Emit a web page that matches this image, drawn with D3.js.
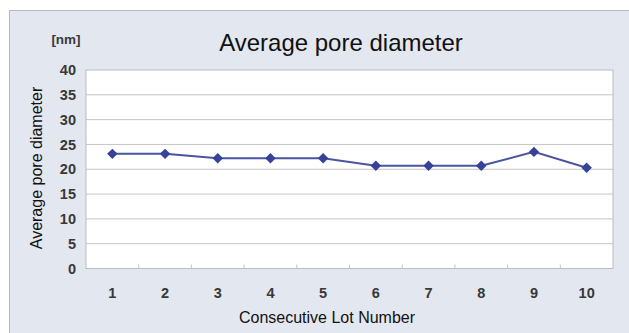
<!DOCTYPE html>
<html>
<head>
<meta charset="utf-8">
<script src="https://cdn.jsdelivr.net/npm/d3@7"></script>
<style>
  html, body { margin: 0; padding: 0; background: #ffffff; }
  svg { display: block; }
</style>
</head>
<body>
<svg id="chart" width="629" height="333"></svg>
<script>
const lots = ["1", "2", "3", "4", "5", "6", "7", "8", "9", "10"];
const poreDiameter = [23.1, 23.1, 22.2, 22.2, 22.2, 20.7, 20.7, 20.7, 23.5, 20.3];
const yTicks = [0, 5, 10, 15, 20, 25, 30, 35, 40];
const titleText = "Average pore diameter";
const yTitle = "Average pore diameter";
const xTitle = "Consecutive Lot Number";
const unitText = "[nm]";

const svg = d3.select("#chart");
const W = 629, H = 333;
const plot = { left: 86, right: 613, top: 70, bottom: 268.5 };

// panel background
svg.append("rect").attr("x", 9.5).attr("y", 10.5).attr("width", W - 9).attr("height", H - 10)
  .attr("fill", "#e3e7ef").attr("stroke", "#b4b8c2").attr("stroke-width", 1);

const x = d3.scaleBand().domain(lots).range([plot.left, plot.right]);
const y = d3.scaleLinear().domain([0, 40]).range([plot.bottom, plot.top]);

// plot area
svg.append("rect").attr("x", plot.left).attr("y", plot.top)
  .attr("width", plot.right - plot.left).attr("height", plot.bottom - plot.top)
  .attr("fill", "#ffffff").attr("stroke", "#b9bcc2").attr("stroke-width", 1);

// gridlines
svg.append("g").selectAll("line").data(yTicks.filter(d => d > 0 && d < 40)).join("line")
  .attr("x1", plot.left).attr("x2", plot.right)
  .attr("y1", d => y(d)).attr("y2", d => y(d))
  .attr("stroke", "#c4c4c4").attr("stroke-width", 1);

// y axis labels
const yAxis = d3.axisLeft(y).tickValues(yTicks).tickSize(0).tickPadding(10);
const yg = svg.append("g").attr("transform", `translate(${plot.left},0)`).call(yAxis);
yg.select(".domain").remove();
yg.selectAll("text").attr("font-family", "Liberation Sans, Arial, sans-serif")
  .attr("font-size", 14.5).attr("font-weight", "bold").attr("fill", "#383838");

// x axis with ticks between categories
const xAxis = d3.axisBottom(x).tickSize(0).tickPadding(19);
const xg = svg.append("g").attr("transform", `translate(0,${plot.bottom})`).call(xAxis);
xg.select(".domain").remove();
xg.selectAll("text").attr("font-family", "Liberation Sans, Arial, sans-serif")
  .attr("font-size", 14.5).attr("font-weight", "bold").attr("fill", "#383838");

// small inner ticks at category boundaries
svg.append("g").selectAll("line").data(lots.slice(1)).join("line")
  .attr("x1", d => x(d)).attr("x2", d => x(d))
  .attr("y1", plot.bottom).attr("y2", plot.bottom - 4)
  .attr("stroke", "#c4c4c4").attr("stroke-width", 1);

// line
const line = d3.line().x((d, i) => x(lots[i]) + x.bandwidth() / 2).y(d => y(d));
svg.append("path").datum(poreDiameter).attr("d", line)
  .attr("fill", "none").attr("stroke", "#4a55a2").attr("stroke-width", 2);

// diamond markers
const diamond = d3.symbol().type(d3.symbolDiamond2).size(70);
svg.append("g").selectAll("path").data(poreDiameter).join("path")
  .attr("d", diamond)
  .attr("transform", (d, i) => `translate(${x(lots[i]) + x.bandwidth() / 2},${y(d)})`)
  .attr("fill", "#35429a");

// title
svg.append("text").attr("x", 341).attr("y", 51).attr("text-anchor", "middle")
  .attr("font-family", "Liberation Sans, Arial, sans-serif").attr("font-size", 24)
  .attr("fill", "#111").text(titleText);

// unit
svg.append("text").attr("x", 66).attr("y", 44).attr("text-anchor", "middle")
  .attr("font-family", "Liberation Sans, Arial, sans-serif").attr("font-size", 13.5)
  .attr("font-weight", "bold").attr("fill", "#3a3a3a").text(unitText);

// y title
svg.append("text").attr("transform", "translate(42,168) rotate(-90)").attr("text-anchor", "middle")
  .attr("font-family", "Liberation Sans, Arial, sans-serif").attr("font-size", 16)
  .attr("fill", "#111").text(yTitle);

// x title
svg.append("text").attr("x", 327).attr("y", 323).attr("text-anchor", "middle")
  .attr("font-family", "Liberation Sans, Arial, sans-serif").attr("font-size", 16)
  .attr("fill", "#111").text(xTitle);
</script>
</body>
</html>
